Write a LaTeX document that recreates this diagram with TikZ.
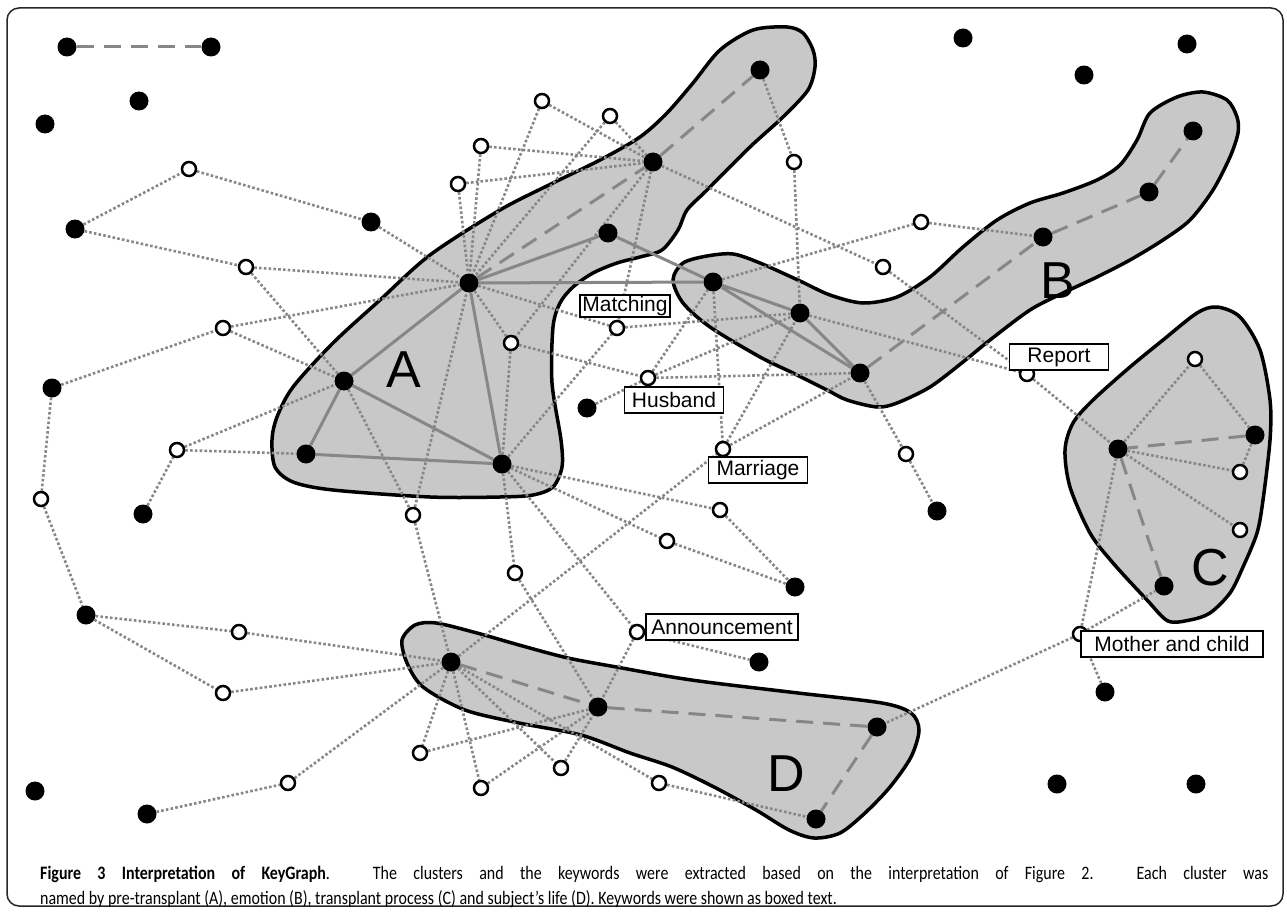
\documentclass[tikz,border=0pt]{standalone}
\usepackage{fontspec}
\setmainfont{Liberation Sans}
\newfontfamily\capfont{Carlito}
\definecolor{edgegray}{RGB}{135,135,135}
\definecolor{blobgray}{RGB}{200,200,200}
\pgfdeclarelayer{blobs}
\pgfdeclarelayer{edges}
\pgfsetlayers{blobs,edges,main}
\begin{document}
\begin{tikzpicture}[x=1pt, y=-1pt,
        bk/.style={circle, fill=black, inner sep=0pt, minimum size=19pt},
        wt/.style={circle, draw=black, fill=white, line width=2.5pt, inner sep=0pt, minimum size=14pt},
        dotl/.style={draw=edgegray, line width=2.6pt, dash pattern=on 2.6pt off 2.2pt},
        solidl/.style={draw=edgegray, line width=3pt},
        dashl/.style={draw=edgegray, line width=3pt, dash pattern=on 17pt off 10pt},
        blob/.style={fill=blobgray, draw=black, line width=3.5pt},
        kw/.style={draw=black, fill=white, line width=1.4pt, inner sep=0pt, minimum height=26pt, font=\fontsize{21}{21}\selectfont},
        letter/.style={font=\fontsize{52}{52}\selectfont},
        captext/.style={anchor=base west, inner sep=0pt, font=\capfont\fontsize{19}{19}\selectfont}]
        \useasboundingbox (0, 0) rectangle (1287, 912);
        \draw[draw=black!85, line width=1.5pt, rounded corners=12pt] (7, 8) rectangle (1283, 906);

        % clusters
        \begin{pgfonlayer}{blobs}
        \draw[blob] plot[smooth cycle] coordinates {(272, 440) (277, 417) (293, 387) (333, 343) (380, 300) (430, 255) (500, 210) (553, 183) (600, 160) (640, 137) (667, 113) (693, 83) (720, 50) (753, 30) (787, 27) (803, 33) (813, 50) (815, 67) (808, 90) (783, 117) (750, 147) (707, 190) (687, 210) (678, 230) (662, 250) (640, 257) (617, 263) (593, 273) (573, 287) (560, 303) (553, 327) (552, 383) (561, 440) (562, 467) (553, 487) (533, 495) (500, 497) (430, 497) (333, 490) (293, 482) (275, 467)};
        \draw[blob] plot[smooth cycle] coordinates {(673, 280) (683, 263) (707, 256) (733, 254) (760, 263) (800, 281) (830, 295) (863, 303) (897, 297) (930, 277) (963, 247) (997, 220) (1030, 203) (1063, 193) (1097, 180) (1120, 165) (1137, 140) (1150, 113) (1177, 97) (1203, 92) (1227, 100) (1237, 117) (1238, 133) (1230, 157) (1213, 190) (1190, 220) (1163, 240) (1130, 260) (1097, 277) (1063, 293) (1030, 310) (990, 340) (963, 362) (930, 387) (897, 403) (877, 407) (847, 400) (827, 390) (793, 373) (760, 357) (710, 327) (683, 303)};
        \draw[blob] plot[smooth cycle] coordinates {(1217, 307) (1240, 317) (1260, 350) (1270, 400) (1270, 440) (1263, 500) (1257, 533) (1243, 567) (1230, 593) (1210, 613) (1190, 620) (1168, 621) (1147, 600) (1113, 563) (1090, 533) (1070, 487) (1065, 450) (1073, 423) (1093, 400) (1130, 367) (1163, 340) (1197, 313)};
        \draw[blob] plot[smooth cycle] coordinates {(402, 640) (415, 625) (436, 623) (477, 633) (519, 645) (568, 658) (622, 668) (672, 677) (714, 683) (798, 693) (882, 703) (911, 713) (919, 730) (911, 757) (890, 787) (865, 813) (840, 833) (814, 838) (789, 830) (756, 810) (714, 787) (672, 767) (630, 753) (581, 735) (519, 723) (465, 710) (423, 687) (407, 663)};
        \end{pgfonlayer}

        % black nodes
        \draw (67, 47) node[bk] (b1) {};
        \draw (211, 47) node[bk] (b2) {};
        \draw (139, 101) node[bk] (b3) {};
        \draw (45, 124) node[bk] (b4) {};
        \draw (75, 229) node[bk] (b5) {};
        \draw (371, 222) node[bk] (b6) {};
        \draw (52, 388) node[bk] (b16) {};
        \draw (143, 514) node[bk] (b11) {};
        \draw (86, 615) node[bk] (b15) {};
        \draw (35, 791) node[bk] (b18) {};
        \draw (147, 814) node[bk] (b19) {};
        \draw (587, 408) node[bk] (b10) {};
        \draw (937, 511) node[bk] (b12) {};
        \draw (795, 587) node[bk] (b13) {};
        \draw (759, 662) node[bk] (b14) {};
        \draw (963, 38) node[bk] (b7) {};
        \draw (1084, 75) node[bk] (b8) {};
        \draw (1187, 44) node[bk] (b9) {};
        \draw (1105, 692) node[bk] (b17) {};
        \draw (1057, 784) node[bk] (b20) {};
        \draw (1196, 784) node[bk] (b21) {};
        \draw (469, 283) node[bk] (A1) {};
        \draw (344, 381) node[bk] (A2) {};
        \draw (306, 454) node[bk] (A3) {};
        \draw (502, 464) node[bk] (A4) {};
        \draw (608, 233) node[bk] (top1) {};
        \draw (653, 162) node[bk] (top2) {};
        \draw (760, 70) node[bk] (top3) {};
        \draw (713, 282) node[bk] (B1) {};
        \draw (800, 313) node[bk] (B2) {};
        \draw (860, 373) node[bk] (B3) {};
        \draw (1043, 237) node[bk] (B4) {};
        \draw (1149, 192) node[bk] (B5) {};
        \draw (1193, 131) node[bk] (B6) {};
        \draw (1118, 449) node[bk] (C1) {};
        \draw (1255, 435) node[bk] (C2) {};
        \draw (1164, 586) node[bk] (C3) {};
        \draw (451, 662) node[bk] (D1) {};
        \draw (598, 707) node[bk] (D2) {};
        \draw (877, 727) node[bk] (D3) {};
        \draw (816, 819) node[bk] (D4) {};

        % white nodes
        \draw (189, 169) node[wt] (w1) {};
        \draw (246, 267) node[wt] (w2) {};
        \draw (223, 328) node[wt] (w3) {};
        \draw (177, 450) node[wt] (w4) {};
        \draw (41, 499) node[wt] (w5) {};
        \draw (542, 101) node[wt] (w6) {};
        \draw (610, 116) node[wt] (w7) {};
        \draw (481, 146) node[wt] (w8) {};
        \draw (458, 184) node[wt] (w9) {};
        \draw (794, 162) node[wt] (w10) {};
        \draw (921, 222) node[wt] (w11) {};
        \draw (883, 267) node[wt] (w12) {};
        \draw (617, 328) node[wt] (matching) {};
        \draw (511, 343) node[wt] (w14) {};
        \draw (648, 378) node[wt] (husband) {};
        \draw (723, 449) node[wt] (marriage) {};
        \draw (1027, 374) node[wt] (report) {};
        \draw (1195, 359) node[wt] (w18) {};
        \draw (1240, 472) node[wt] (w19) {};
        \draw (1240, 530) node[wt] (w20) {};
        \draw (906, 454) node[wt] (w21) {};
        \draw (413, 515) node[wt] (w22) {};
        \draw (720, 510) node[wt] (w23) {};
        \draw (667, 541) node[wt] (w24) {};
        \draw (515, 573) node[wt] (w25) {};
        \draw (637, 632) node[wt] (announce) {};
        \draw (239, 632) node[wt] (w27) {};
        \draw (223, 693) node[wt] (w28) {};
        \draw (1080, 634) node[wt] (mother) {};
        \draw (420, 753) node[wt] (w30) {};
        \draw (481, 788) node[wt] (w31) {};
        \draw (561, 768) node[wt] (w32) {};
        \draw (659, 783) node[wt] (w33) {};
        \draw (288, 783) node[wt] (w34) {};

        % links
        \begin{pgfonlayer}{edges}
        \draw[dashl] (b1) -- (b2);
        \draw[dashl] (A1) -- (top2) -- (top3);
        \draw[dashl] (B3) -- (B4) -- (B5) -- (B6);
        \draw[dashl] (C2) -- (C1) -- (C3);
        \draw[dashl] (D1) -- (D2) -- (D3) -- (D4);

        \draw[solidl] (A1) -- (top1) -- (B1);
        \draw[solidl] (A1) -- (B1);
        \draw[solidl] (B1) -- (B2) -- (B3) -- (B1);
        \draw[solidl] (A1) -- (A2) -- (A3) -- (A4) -- (A1);
        \draw[solidl] (A2) -- (A4);

        \draw[dotl] (b5) -- (w1) -- (b6) -- (A1);
        \draw[dotl] (b5) -- (w2) -- (A1);
        \draw[dotl] (w2) -- (A2);
        \draw[dotl] (b16) -- (w3) -- (A1);
        \draw[dotl] (w3) -- (A2);
        \draw[dotl] (b16) -- (w5) -- (b15);
        \draw[dotl] (b11) -- (w4) -- (A2);
        \draw[dotl] (w4) -- (A3);
        \draw[dotl] (A2) -- (w22) -- (A1);
        \draw[dotl] (w22) -- (D1);
        \draw[dotl] (w6) -- (top2);
        \draw[dotl] (w6) -- (A1);
        \draw[dotl] (w7) -- (top2);
        \draw[dotl] (w7) -- (A1);
        \draw[dotl] (w8) -- (top2);
        \draw[dotl] (w8) -- (A1);
        \draw[dotl] (w9) -- (top2);
        \draw[dotl] (w9) -- (A1);
        \draw[dotl] (top2) -- (matching);
        \draw[dotl] (top2) -- (w14);
        \draw[dotl] (top2) -- (w12) -- (report);
        \draw[dotl] (top3) -- (w10) -- (B2);
        \draw[dotl] (A1) -- (matching) -- (B2);
        \draw[dotl] (A4) -- (matching);
        \draw[dotl] (A1) -- (w14) -- (A4);
        \draw[dotl] (w14) -- (husband) -- (B3);
        \draw[dotl] (b10) -- (husband) -- (B1);
        \draw[dotl] (husband) -- (B2);
        \draw[dotl] (B1) -- (w11) -- (B4);
        \draw[dotl] (B1) -- (marriage) -- (B2);
        \draw[dotl] (D1) -- (marriage) -- (B3);
        \draw[dotl] (B2) -- (report) -- (C1);
        \draw[dotl] (B3) -- (w21) -- (b12);
        \draw[dotl] (C1) -- (w18) -- (C2);
        \draw[dotl] (C1) -- (w19) -- (C2);
        \draw[dotl] (C1) -- (w20);
        \draw[dotl] (C1) -- (mother) -- (C3);
        \draw[dotl] (b17) -- (mother) -- (D3);
        \draw[dotl] (A4) -- (w23) -- (b13);
        \draw[dotl] (A4) -- (w24) -- (b13);
        \draw[dotl] (A4) -- (w25) -- (D2);
        \draw[dotl] (A4) -- (announce) -- (D2);
        \draw[dotl] (announce) -- (b14);
        \draw[dotl] (b15) -- (w27) -- (D1);
        \draw[dotl] (b15) -- (w28) -- (D1);
        \draw[dotl] (b19) -- (w34) -- (D1);
        \draw[dotl] (D1) -- (w30) -- (D2);
        \draw[dotl] (D1) -- (w31) -- (D2);
        \draw[dotl] (D1) -- (w32) -- (D2);
        \draw[dotl] (D1) -- (w33) -- (D4);
        \end{pgfonlayer}

        % cluster letters
        \draw (404, 370) node[letter] (la) {A};
        \draw (1058, 281) node[letter] (lb) {B};
        \draw (1210, 568) node[letter] (lc) {C};
        \draw (786, 774) node[letter] (ld) {D};

        % keywords
        \draw (625, 306) node[kw, minimum width=90pt, minimum height=22pt] (kmatching) {Matching};
        \draw (674, 400) node[kw, minimum width=99pt] (khusband) {Husband};
        \draw (758, 470) node[kw, minimum width=99pt] (kmarriage) {Marriage};
        \draw (1059, 357) node[kw, minimum width=99pt] (kreport) {Report};
        \draw (722, 627) node[kw, minimum width=152pt] (kannounce) {Announcement};
        \draw (1172, 644) node[kw, minimum width=182pt] (kmother) {Mother and child};

        % caption
        \draw (40, 879) node[captext] (cap1) {\scalebox{0.84}[1]{\makebox[1462pt][s]{\textbf{Figure 3 Interpretation of KeyGraph}. The clusters and the keywords were extracted based on the interpretation of Figure 2. Each cluster was}}};
        \draw (40, 904) node[captext] (cap2) {\scalebox{0.84}[1]{named by pre-transplant (A), emotion (B), transplant process (C) and subject’s life (D). Keywords were shown as boxed text.}};
    \end{tikzpicture}
\end{document}
